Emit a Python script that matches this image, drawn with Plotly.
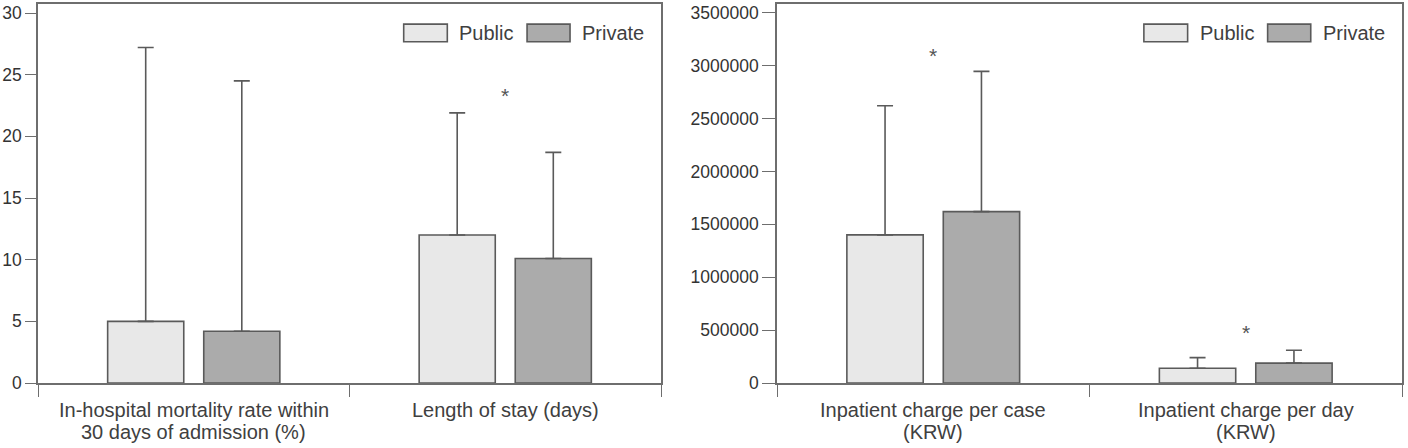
import plotly.graph_objects as go

# ---- data ----
series_names = ["Public", "Private"]
left_categories = ["In-hospital mortality rate within<br>30 days of admission (%)", "Length of stay (days)"]
left_public = [5.0, 12.0]
left_public_sd = [22.2, 9.9]
left_private = [4.2, 10.1]
left_private_sd = [20.3, 8.6]
left_sig = [(1, 23.5)]

right_categories = ["Inpatient charge per case<br>(KRW)", "Inpatient charge per day<br>(KRW)"]
right_public = [1400000, 140000]
right_public_sd = [1220000, 100000]
right_private = [1620000, 188000]
right_private_sd = [1325000, 122000]
right_sig = [(0, 3110000), (1, 492000)]

left_ticks = [0, 5, 10, 15, 20, 25, 30]
right_ticks = [0, 500000, 1000000, 1500000, 2000000, 2500000, 3000000, 3500000]

# ---- style ----
FILL = {"Public": "#e8e8e8", "Private": "#ababab"}
EDGE = "#5a5a5a"
AXC = "#6e6e6e"
TXT = "#404040"
FONT = "Liberation Sans"

fig = go.Figure()

panels = [
    ("x", "y", left_categories, [left_public, left_private], [left_public_sd, left_private_sd], left_sig),
    ("x2", "y2", right_categories, [right_public, right_private], [right_public_sd, right_private_sd], right_sig),
]

for xa, ya, cats, vals, sds, sig in panels:
    for name, v, sd in zip(series_names, vals, sds):
        fig.add_trace(go.Bar(
            x=cats, y=v, name=name, xaxis=xa, yaxis=ya,
            marker=dict(color=FILL[name], line=dict(color=EDGE, width=1.6)),
            error_y=dict(type="data", array=sd, arrayminus=[0] * len(sd), symmetric=False,
                         color=EDGE, thickness=1.6, width=8),
            showlegend=False,
        ))
    for ci, yv in sig:
        fig.add_annotation(x=cats[ci], y=yv, xref=xa, yref=ya, text="*", showarrow=False,
                           yshift=-2, font=dict(family=FONT, size=21, color="#555555"))
    # category labels, one annotation per text line (tight line spacing)
    for cat in cats:
        for li, line in enumerate(cat.split("<br>")):
            fig.add_annotation(x=cat, y=0, xref=xa, yref=ya + " domain", text=line,
                               showarrow=False, yanchor="middle", yshift=-27 - 22 * li,
                               font=dict(family=FONT, size=20, color=TXT))

# custom legends (inside each panel, top right)
for xa, ya in [("x", "y"), ("x2", "y2")]:
    xd, yd = xa + " domain", ya + " domain"
    boxes = [(0.587, 0.657, 0.673), (0.785, 0.854, 0.870)]
    for name, (x0, x1, xt) in zip(series_names, boxes):
        fig.add_shape(type="rect", xref=xd, yref=yd, x0=x0, x1=x1, y0=0.9005, y1=0.947,
                      fillcolor=FILL[name], line=dict(color=EDGE, width=1.6))
        fig.add_annotation(xref=xd, yref=yd, x=xt, y=0.9238, text=name, showarrow=False,
                           xanchor="left", yanchor="middle",
                           font=dict(family=FONT, size=20, color=TXT))

axis_common = dict(showline=True, linecolor=AXC, linewidth=1.6, mirror=True,
                   ticks="outside", tickcolor=AXC, tickwidth=1.4, showgrid=False, zeroline=False)

fig.update_layout(
    width=1408, height=448,
    margin=dict(l=0, r=0, t=4, b=65),
    paper_bgcolor="white", plot_bgcolor="white",
    barmode="group", bargap=0.383, bargroupgap=0.208,
    font=dict(family=FONT, color=TXT),
    xaxis=dict(domain=[38 / 1408, 661 / 1408], anchor="y", type="category", tickson="boundaries",
               ticklen=12, showticklabels=False, **axis_common),
    yaxis=dict(anchor="x", range=[0, 30.73], tickvals=left_ticks, ticklen=11,
               tickfont=dict(size=17.5, color="#333333"), **axis_common),
    xaxis2=dict(domain=[777 / 1408, 1402 / 1408], anchor="y2", type="category", tickson="boundaries",
                ticklen=12, showticklabels=False, **axis_common),
    yaxis2=dict(anchor="x2", range=[0, 3582000], tickvals=right_ticks, tickformat="d", ticklen=13,
                tickfont=dict(size=17.5, color="#333333"), **axis_common),
)

fig.write_html("out.html")
